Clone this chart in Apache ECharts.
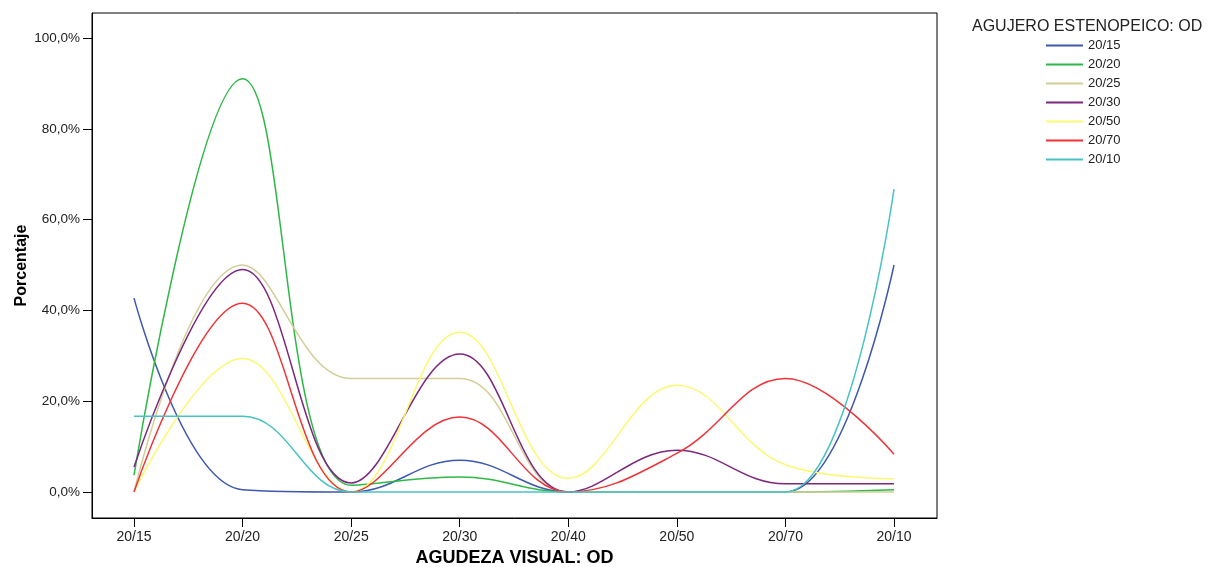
<!DOCTYPE html>
<html><head><meta charset="utf-8">
<script src="https://cdn.jsdelivr.net/npm/echarts@6/dist/echarts.min.js"></script>
<style>html,body{margin:0;padding:0;background:#fff}#c{width:1221px;height:567px}</style>
</head><body><div id="c"></div>
<script>
const categories = ['20/15','20/20','20/25','20/30','20/40','20/50','20/70','20/10'];
const yTicks = [0,20,40,60,80,100];
const s2015 = [42.7, 0.5, 0, 7.0, 0, 0, 0, 50.0];
const s2020 = [3.7, 91.0, 1.5, 3.3, 0, 0, 0, 0.5];
const s2025 = [0, 50.0, 25.0, 25.0, 0, 0, 0, 0];
const s2030 = [5.5, 49.0, 2.0, 30.4, 0, 9.2, 1.8, 1.8];
const s2050 = [0, 29.4, 0, 35.2, 3.0, 23.5, 6.0, 2.9];
const s2070 = [0, 41.6, 0, 16.5, 0, 8.5, 25.0, 8.3];
const s2010 = [16.7, 16.7, 0, 0, 0, 0, 0, 66.7];
const seriesNames = ['20/15','20/20','20/25','20/30','20/50','20/70','20/10'];
const seriesData = [s2015, s2020, s2025, s2030, s2050, s2070, s2010];
const colors = ['#3e58ac','#2eb848','#d3ce97','#7c287d','#fbf873','#ef3338','#48c2c5'];

const font = "'Liberation Sans', Arial, sans-serif";
const narrow = "'Liberation Sans Narrow', 'Liberation Sans', Arial, sans-serif";
const xIdx = categories.map((c, i) => i);
const chart = echarts.init(document.getElementById('c'));
chart.setOption({
  animation: false,
  backgroundColor: '#fff',
  color: colors,
  title: {
    text: 'AGUJERO ESTENOPEICO: OD', left: 967, top: 14,
    textStyle: {fontFamily: font, fontSize: 16, fontWeight: 'normal', color: '#222'}
  },
  legend: {
    orient: 'vertical', left: 1041, top: 34, itemWidth: 37, itemHeight: 2, itemGap: 6,
    icon: 'rect',
    data: seriesNames,
    textStyle: {fontFamily: font, fontSize: 13, color: '#222'}
  },
  grid: {left: 92, right: 284, top: 13, bottom: 49, show: true, borderColor: '#000', borderWidth: 1,
         backgroundColor: 'transparent', outerBoundsMode: 'none', containLabel: false},
  xAxis: {
    type: 'value', min: -0.387, max: 7.396,
    axisLine: {show: true, onZero: false, lineStyle: {color: '#000'}},
    splitLine: {show: false},
    axisTick: {show: true, length: 9, customValues: xIdx, lineStyle: {color: '#000'}},
    axisLabel: {fontFamily: narrow, fontSize: 14, color: '#222', margin: 12, customValues: xIdx,
      formatter: v => categories[Math.round(v)]},
    name: 'AGUDEZA VISUAL: OD', nameLocation: 'middle', nameGap: 30,
    nameTextStyle: {fontFamily: narrow, fontSize: 18, fontWeight: 'bold', color: '#000'}
  },
  yAxis: {
    type: 'value', min: -5.73, max: 105.51,
    axisLine: {show: true, onZero: false, lineStyle: {color: '#000'}},
    axisTick: {show: true, length: 9, customValues: yTicks, lineStyle: {color: '#000'}},
    splitLine: {show: false},
    axisLabel: {fontFamily: font, fontSize: 13.5, color: '#222', margin: 12, customValues: yTicks,
      formatter: v => v.toFixed(1).replace('.', ',') + '%'},
    name: 'Porcentaje', nameLocation: 'middle', nameGap: 62, nameRotate: 90, nameMoveOverlap: false,
    nameTextStyle: {fontFamily: font, fontSize: 16, fontWeight: 'bold', color: '#000'}
  },
  series: seriesData.map((d, i) => ({
    name: seriesNames[i], type: 'line', data: d.map((v, j) => [xIdx[j], v]), smooth: 0.4,
    showSymbol: false, symbol: 'none',
    lineStyle: {width: 1.5, color: colors[i]},
    itemStyle: {color: colors[i]}
  }))
});
</script></body></html>
